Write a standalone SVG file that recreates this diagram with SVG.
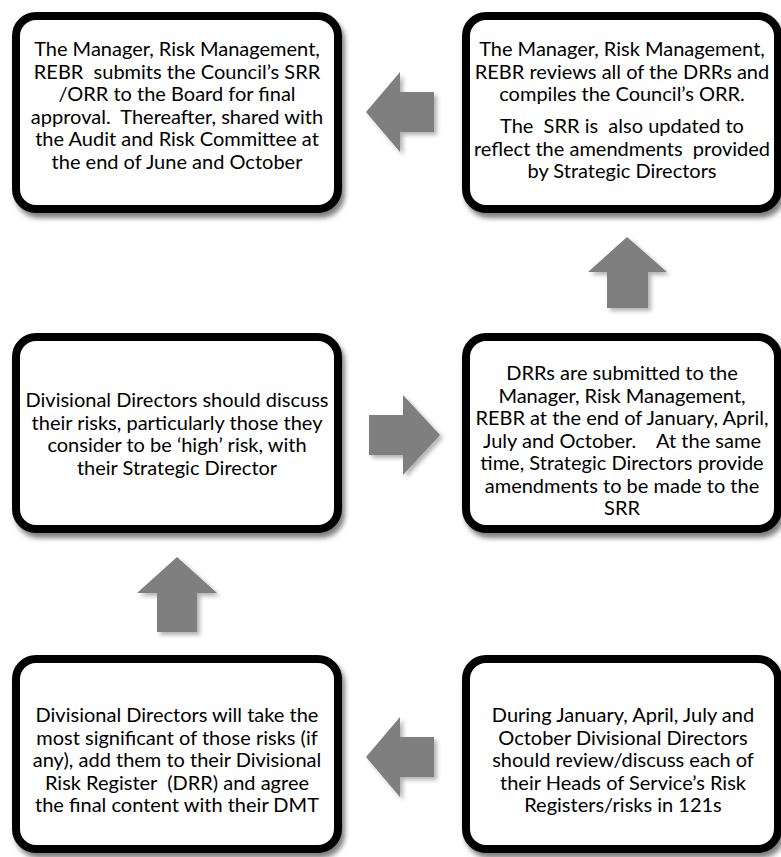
<svg xmlns="http://www.w3.org/2000/svg" width="781" height="857" viewBox="0 0 781 857">
<style>
.box{fill:#fff;stroke:#000;stroke-width:8;filter:url(#sh)}
.arr{fill:#7f7f7f;filter:url(#sh2)}
text{font-family:Lato,"Liberation Sans",sans-serif;font-size:20px;fill:#000;text-anchor:middle;white-space:pre}
</style>
<defs>
<filter id="sh" x="-5%" y="-5%" width="115%" height="115%">
<feDropShadow dx="3" dy="5" stdDeviation="2.5" flood-color="#000" flood-opacity="0.5"/>
</filter>
<filter id="sh2" x="-10%" y="-10%" width="130%" height="130%">
<feDropShadow dx="3" dy="3" stdDeviation="2" flood-color="#000" flood-opacity="0.3"/>
</filter>
</defs>
<g id="connectors">
<polygon class="arr" points="366,112 400,72 400,92 434,92 434,132 400,132 400,152"/>
<polygon class="arr" points="627,237 667,272 648,272 648,308 607,308 607,272 588,272"/>
<polygon class="arr" points="440,435 403,395 403,415 369,415 369,455 403,455 403,475"/>
<polygon class="arr" points="177,557 217,593 197,593 197,632 157,632 157,593 137,593"/>
<polygon class="arr" points="366,757 400,717 400,737 434,737 434,777 400,777 400,797"/>
</g>
<g id="n1">
<rect class="box" x="16" y="16" width="322" height="193" rx="20"/>
<text x="177" y="56">The Manager, Risk Management,</text>
<text x="177" y="78.5">REBR  submits the Council’s SRR</text>
<text x="177" y="101">/ORR to the Board for final</text>
<text x="177" y="123.5">approval.  Thereafter, shared with</text>
<text x="177" y="146">the Audit and Risk Committee at</text>
<text x="177" y="168.5">the end of June and October</text>
</g>
<g id="n2">
<rect class="box" x="466" y="16" width="312" height="193" rx="20"/>
<text x="622" y="56">The Manager, Risk Management,</text>
<text x="622" y="78.5">REBR reviews all of the DRRs and</text>
<text x="622" y="101">compiles the Council’s ORR.</text>
<text x="622" y="133">The  SRR is  also updated to</text>
<text x="622" y="155.5">reflect the amendments  provided</text>
<text x="622" y="178">by Strategic Directors</text>
</g>
<g id="n3">
<rect class="box" x="16" y="337" width="322" height="192" rx="20"/>
<text x="177" y="407">Divisional Directors should discuss</text>
<text x="177" y="429.5">their risks, particularly those they</text>
<text x="177" y="452">consider to be ‘high’ risk, with</text>
<text x="177" y="474.5">their Strategic Director</text>
</g>
<g id="n4">
<rect class="box" x="466" y="337" width="312" height="192" rx="20"/>
<text x="622" y="380">DRRs are submitted to the</text>
<text x="622" y="402.5">Manager, Risk Management,</text>
<text x="622" y="425">REBR at the end of January, April,</text>
<text x="622" y="447.5">July and October.    At the same</text>
<text x="622" y="470">time, Strategic Directors provide</text>
<text x="622" y="492.5">amendments to be made to the</text>
<text x="622" y="515">SRR</text>
</g>
<g id="n5">
<rect class="box" x="16" y="659" width="322" height="190" rx="20"/>
<text x="177" y="722">Divisional Directors will take the</text>
<text x="177" y="744.5">most significant of those risks (if</text>
<text x="177" y="767">any), add them to their Divisional</text>
<text x="177" y="789.5">Risk Register  (DRR) and agree</text>
<text x="177" y="812">the final content with their DMT</text>
</g>
<g id="n6">
<rect class="box" x="466" y="659" width="312" height="190" rx="20"/>
<text x="623" y="722">During January, April, July and</text>
<text x="623" y="744.5">October Divisional Directors</text>
<text x="623" y="767">should review/discuss each of</text>
<text x="623" y="789.5">their Heads of Service’s Risk</text>
<text x="623" y="812">Registers/risks in 121s</text>
</g>
</svg>
